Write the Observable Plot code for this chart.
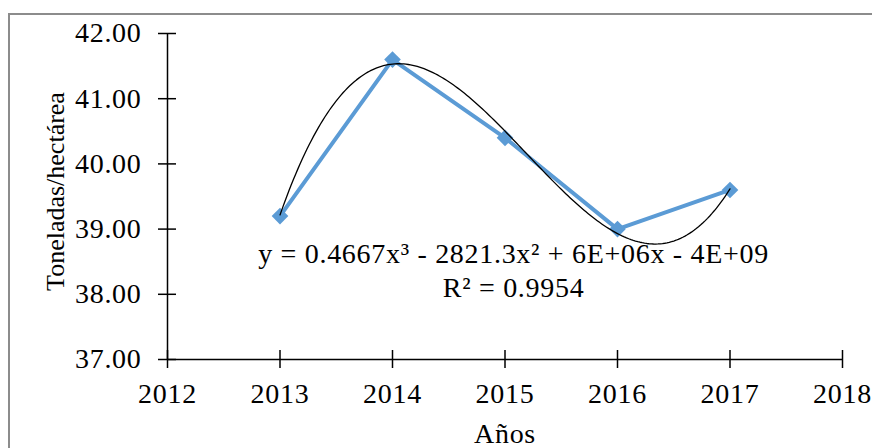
<!DOCTYPE html>
<html>
<head>
<meta charset="utf-8">
<script src="https://cdn.jsdelivr.net/npm/d3@7"></script>
<script src="https://cdn.jsdelivr.net/npm/@observablehq/plot@0.6"></script>
<style>
  html, body { margin: 0; padding: 0; background: #fff; overflow: hidden; }
  #wrap { position: relative; width: 872px; height: 448px; }
  #border { position: absolute; left: 8px; top: 13px; width: 900px; height: 500px;
            border: 2px solid #8c8c8c; box-sizing: border-box; pointer-events: none; }
  svg { display: block; }
  svg, svg text { font-family: "Liberation Serif", "Times New Roman", serif !important; }
  svg text { letter-spacing: 0.7px; }
  svg text[transform*="rotate"], svg g[transform*="rotate"] text { letter-spacing: 0; }
</style>
</head>
<body>
<div id="wrap"><div id="chart"></div><div id="border"></div></div>
<script>
const years = [2013, 2014, 2015, 2016, 2017];
const yields = [39.2, 41.6, 40.4, 39.0, 39.6];
const xTicks = [2012, 2013, 2014, 2015, 2016, 2017, 2018];
const yTicks = [37, 38, 39, 40, 41, 42];
const yLabel = "Toneladas/hectárea";
const xLabel = "Años";
const equationText = "y = 0.4667x³ - 2821.3x² + 6E+06x - 4E+09";
const r2Text = "R² = 0.9954";
const labelX = 2015.076, eqY = 38.61, r2Y = 38.10;

const FONT = "'Liberation Serif', 'Times New Roman', serif";
const BLUE = "#5B9BD5";
const W = 872, H = 448, ML = 167, MR = 30, MT = 33, MB = 89;
const TICK = 9;
const FS = 28;

// least-squares cubic trendline from the data (like Excel's polynomial trendline)
function polyfit(xs, ys, deg) {
  const m = d3.mean(xs);
  const n = deg + 1;
  const A = Array.from({length: n}, () => new Array(n).fill(0));
  const b = new Array(n).fill(0);
  xs.forEach((x, k) => {
    const t = x - m;
    for (let i = 0; i < n; i++) {
      b[i] += ys[k] * t ** i;
      for (let j = 0; j < n; j++) A[i][j] += t ** (i + j);
    }
  });
  for (let i = 0; i < n; i++) {
    let p = i;
    for (let r = i + 1; r < n; r++) if (Math.abs(A[r][i]) > Math.abs(A[p][i])) p = r;
    [A[i], A[p]] = [A[p], A[i]]; [b[i], b[p]] = [b[p], b[i]];
    for (let r = i + 1; r < n; r++) {
      const f = A[r][i] / A[i][i];
      for (let c = i; c < n; c++) A[r][c] -= f * A[i][c];
      b[r] -= f * b[i];
    }
  }
  const coef = new Array(n).fill(0);
  for (let i = n - 1; i >= 0; i--) {
    let s = b[i];
    for (let c = i + 1; c < n; c++) s -= A[i][c] * coef[c];
    coef[i] = s / A[i][i];
  }
  return x => coef.reduce((acc, c, i) => acc + c * (x - m) ** i, 0);
}
const fit = polyfit(years, yields, 3);
const [x0, x1] = d3.extent(years);
const trend = d3.range(0, 201).map(i => {
  const x = x0 + (x1 - x0) * i / 200;
  return {x, y: fit(x)};
});
const data = years.map((x, i) => ({x, y: yields[i]}));

const chart = Plot.plot({
  width: W,
  height: H,
  marginLeft: ML,
  marginRight: MR,
  marginTop: MT,
  marginBottom: MB,
  style: {fontFamily: FONT, fontSize: FS + "px", color: "#000", background: "transparent"},
  x: {domain: [2012, 2018]},
  y: {domain: [37, 42]},
  marks: [
    Plot.axisX({ticks: xTicks, tickFormat: d3.format("d"), tickSize: TICK, tickPadding: 15,
                stroke: "#000", strokeWidth: 1.5, strokeOpacity: 1, fill: "#000", fontSize: FS, label: null}),
    Plot.axisY({ticks: yTicks, tickFormat: d3.format(".2f"), tickSize: TICK, tickPadding: 17,
                stroke: "#000", strokeWidth: 1.5, strokeOpacity: 1, fill: "#000", fontSize: FS, label: null}),
    // inner halves of the crossing ticks
    Plot.tickX(xTicks, {x: d => d, insetTop: H - MT - MB - TICK, stroke: "#000", strokeWidth: 1.5}),
    Plot.tickY(yTicks, {y: d => d, insetRight: W - ML - MR - TICK, stroke: "#000", strokeWidth: 1.5}),
    Plot.ruleY([37], {stroke: "#000", strokeWidth: 1.5}),
    Plot.ruleX([2012], {stroke: "#000", strokeWidth: 1.5}),
    Plot.line(data, {x: "x", y: "y", stroke: BLUE, strokeWidth: 4}),
    Plot.dot(data, {x: "x", y: "y", symbol: "diamond2", r: 7.5, fill: BLUE, stroke: "none"}),
    Plot.line(trend, {x: "x", y: "y", stroke: "#000", strokeWidth: 1.3}),
    Plot.text([equationText], {x: () => labelX, y: () => eqY, text: d => d, fontSize: FS, fill: "#000", lineAnchor: "middle"}),
    Plot.text([r2Text], {x: () => labelX, y: () => r2Y, text: d => d, fontSize: FS, fill: "#000", lineAnchor: "middle"}),
    Plot.text([yLabel], {frameAnchor: "left", textAnchor: "middle", dx: -112, dy: -5, rotate: -90, text: d => d, fontSize: 26, fill: "#000", lineAnchor: "middle"}),
    Plot.text([xLabel], {frameAnchor: "bottom", dy: 75, text: d => d, fontSize: FS, fill: "#000", lineAnchor: "middle"})
  ]
});
document.getElementById("chart").appendChild(chart);
</script>
</body>
</html>
